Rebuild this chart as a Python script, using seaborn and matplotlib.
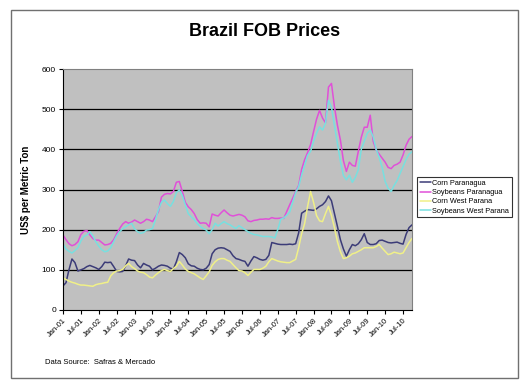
import numpy as np
import pandas as pd
import seaborn as sns
import matplotlib.pyplot as plt
from matplotlib.patches import Rectangle

# monthly, Jan-01 .. Oct-10
corn_paranagua = [
    60, 68, 100, 127, 118, 97, 100, 103, 108, 111, 108, 105,
    101, 108, 119, 118, 119, 108, 96, 95, 96, 110, 127, 124,
    123, 112, 105, 116, 112, 109, 100, 104, 109, 112, 111, 109,
    104, 102, 120, 143, 138, 130, 115, 110, 109, 104, 101, 100,
    104, 113, 140, 150, 154, 155, 154, 150, 146, 135, 128, 126,
    123, 121, 109, 122, 133, 130, 126, 124, 126, 136, 168, 166,
    164, 163, 163, 163, 164, 163, 165, 192, 241, 246, 250, 249,
    248, 252, 258, 262, 270, 284, 272, 240, 208, 175, 152, 134,
    150, 163, 160, 165, 175, 190, 168, 163, 163, 165, 173, 174,
    171, 168, 167, 168, 169, 166, 164, 188, 205, 212]
soy_paranagua = [
    187, 175, 165, 160, 163, 170, 188, 196, 198, 187, 178, 174,
    174, 168, 162, 163, 166, 175, 190, 203, 214, 220, 216, 219,
    224, 220, 216, 220, 226, 224, 220, 232, 245, 281, 288, 290,
    289, 295, 318, 320, 295, 268, 257, 250, 240, 225, 216, 217,
    216, 207, 239, 236, 234, 242, 249, 242, 236, 234, 236, 238,
    236, 232, 222, 220, 223, 224, 226, 226, 227, 226, 230, 228,
    228, 229, 228, 245, 262, 278, 295, 310, 350, 374, 392, 412,
    444, 475, 497, 478, 466, 555, 564, 506, 460, 423, 372, 345,
    368, 360, 358, 395, 430, 455, 455, 485, 420, 398, 388, 378,
    368, 355, 352, 360, 363, 368, 386, 410, 425, 432]
corn_west = [
    80, 76, 72, 69, 67, 64, 62, 62, 61, 60, 59, 63,
    65, 66, 68, 69, 85, 93, 97, 98, 101, 110, 116, 108,
    103, 97, 94, 93, 88, 82, 80, 87, 93, 98, 101, 98,
    96, 103, 109, 121, 112, 102, 96, 93, 90, 85, 80, 76,
    85, 95, 111, 120, 126, 128, 128, 124, 121, 113, 105, 98,
    97, 93, 86, 94, 101, 101, 101, 104, 109, 120, 128, 125,
    122, 120, 119, 118, 118, 122, 126, 155, 190, 215, 258, 295,
    268, 235, 222, 220, 240, 258, 235, 205, 170, 145, 128, 130,
    134, 140, 142, 146, 150, 155, 155, 155, 155, 158, 163, 154,
    146, 138, 140, 144, 142, 140, 142, 155, 168, 178]
soy_west = [
    165, 152, 146, 142, 148, 155, 172, 183, 187, 195, 185, 170,
    159, 150, 145, 147, 155, 170, 185, 195, 202, 207, 212, 216,
    202, 195, 191, 193, 199, 200, 203, 225, 250, 268, 274, 265,
    258, 270, 292, 299, 285, 262, 240, 232, 225, 215, 208, 203,
    199, 190, 200, 216, 209, 215, 220, 215, 212, 207, 203, 210,
    205, 200, 195, 191, 188, 187, 185, 183, 183, 183, 182, 179,
    200, 226, 229, 236, 244, 268, 292, 307, 336, 360, 385, 395,
    420, 440, 456, 448, 465, 522, 505, 460, 415, 370, 335, 324,
    336, 318, 330, 349, 400, 420, 440, 448, 431, 400, 380, 355,
    320, 303, 295, 310, 322, 340, 357, 375, 388, 394]

series_names = ["Corn Paranagua", "Soybeans Paranagua", "Corn West Parana", "Soybeans West Parana"]
colors = ["#3c3c78", "#e050d8", "#f0f088", "#78e0e0"]
tick_labels = []
for yr in range(1, 11):
    tick_labels += ["Jan-%02d" % yr, "Jul-%02d" % yr]

month = np.arange(len(corn_paranagua))
frames = []
for name, vals in zip(series_names, [corn_paranagua, soy_paranagua, corn_west, soy_west]):
    frames.append(pd.DataFrame({"month": month, "price": vals, "series": name}))
df = pd.concat(frames)

sns.set_style("ticks")
plt.rcParams['font.family'] = ['Liberation Sans', 'DejaVu Sans']
plt.rcParams['text.color'] = 'black'
plt.rcParams['xtick.color'] = 'black'
plt.rcParams['ytick.color'] = 'black'
plt.rcParams['axes.labelcolor'] = 'black'

fig = plt.figure(figsize=(5.28, 3.87), dpi=100)
ax = fig.add_axes([63 / 528, 1 - 310 / 387, 349 / 528, 241 / 387])
ax.set_facecolor("#c0c0c0")

sns.lineplot(data=df, x="month", y="price", hue="series", hue_order=series_names,
             palette=colors, linewidth=1.1, ax=ax)

ax.set_xlim(0, len(month) - 1)
ax.set_ylim(0, 600)
ax.set_yticks(range(0, 601, 100))
ax.tick_params(axis="y", labelsize=6, length=3, width=0.8, pad=2)
ax.set_xticks(range(0, len(month), 6))
ax.set_xticklabels(tick_labels, rotation=45, ha="right", rotation_mode="anchor", fontsize=5.5)
ax.tick_params(axis="x", length=3, width=0.8, pad=2)
for v in range(100, 600, 100):
    ax.axhline(v, color="black", linewidth=0.9, zorder=0.5)
for s in ax.spines.values():
    s.set_color("#808080")
ax.spines["left"].set_color("black")
ax.spines["bottom"].set_color("black")
ax.set_xlabel("")
ax.set_ylabel("US$ per Metric Ton", fontsize=7, fontweight="bold", labelpad=8)

leg = ax.legend(loc="upper left", bbox_to_anchor=(417 / 528, 1 - 177 / 387),
                bbox_transform=fig.transFigure, fontsize=5.3, frameon=True, fancybox=False,
                handlelength=1.5, handletextpad=0.2, borderpad=0.35, labelspacing=0.3,
                borderaxespad=0)
leg.get_frame().set_edgecolor("black")
leg.get_frame().set_linewidth(0.8)

fig.text(265 / 528, 1 - 32 / 387, "Brazil FOB Prices", ha="center", va="center",
         fontsize=13, fontweight="bold")
fig.text(45 / 528, 1 - 362 / 387, "Data Source:  Safras & Mercado", ha="left", va="center",
         fontsize=5.5)
fig.patches.append(Rectangle((11 / 528, 1 - 378 / 387), 507 / 528, 368 / 387,
                             transform=fig.transFigure, fill=False, edgecolor="#707070",
                             linewidth=1.0))

fig.savefig("out.png", dpi=100)
